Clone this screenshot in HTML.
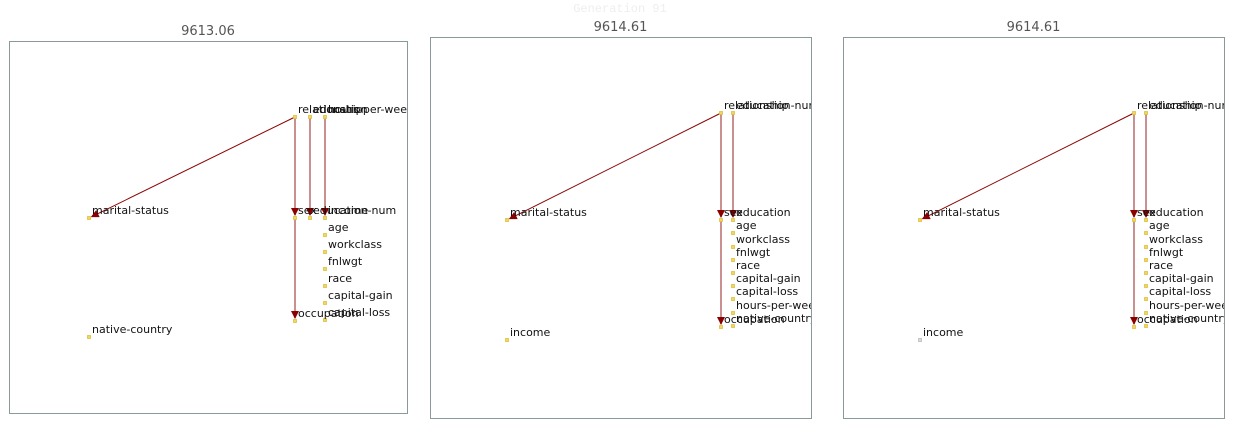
<!DOCTYPE html>
<html><head><meta charset="utf-8"><style>
body{margin:0;background:#fff;width:1242px;height:420px;overflow:hidden}
svg{font-family:"DejaVu Sans","Liberation Sans",sans-serif}
</style></head><body>
<svg id="s" width="1242" height="420">
<defs><marker id="ah" markerWidth="8" markerHeight="8" refX="7" refY="4" orient="auto" markerUnits="userSpaceOnUse"><path d="M0,0 L8,4 L0,8 Z" fill="#8b0000"/></marker></defs>
<text x="620" y="12" text-anchor="middle" font-size="12" fill="#eee" font-family="Liberation Mono,monospace">Generation 91</text>
</svg>
<script>
const panelTitles=["9613.06","9614.61","9614.61"];
const panelBoxes=[[9,41,398,372],[430,37,381,381],[843,37,381,381]];
const nodes1=[["relationship",286,76],["education",301,76],["hours-per-week",316,76],["marital-status",80,177],["sex",286,177],["education-num",301,177],["income",316,177],["age",316,194],["workclass",316,211],["fnlwgt",316,228],["race",316,245],["capital-gain",316,262],["capital-loss",316,279],["occupation",286,280],["native-country",80,296]];
const edges1=[["relationship","marital-status"],["relationship","sex"],["education","education-num"],["hours-per-week","income"],["sex","occupation"]];
const nodes2=[["relationship",291,76],["education-num",303,76],["marital-status",77,183],["sex",291,183],["education",303,183],["age",303,196],["workclass",303,210],["fnlwgt",303,223],["race",303,236],["capital-gain",303,249],["capital-loss",303,262],["hours-per-week",303,276],["native-country",303,289],["occupation",291,290],["income",77,303]];
const edges2=[["relationship","marital-status"],["relationship","sex"],["education-num","education"],["sex","occupation"]];
const panelNodes=[nodes1,nodes2,nodes2];
const panelEdges=[edges1,edges2,edges2];
const svg=document.getElementById('s');const NS="http://www.w3.org/2000/svg";
function mk(t,a,p){const e=document.createElementNS(NS,t);for(const k in a)e.setAttribute(k,a[k]);(p||svg).appendChild(e);return e;}
panelBoxes.forEach((b,i)=>{
 const g=mk('g',{});
 
 
 const cp=mk('clipPath',{id:'c'+i},g);
 mk('rect',{x:b[0],y:b[1],width:b[2],height:b[3]},cp);
 const r=mk('rect',{x:b[0]+.5,y:b[1]+.5,width:b[2],height:b[3],fill:'none',stroke:'#8a9a9a'},g);
 
 
 const t=mk('text',{x:b[0]+b[2]/2,y:b[1]-6,'text-anchor':'middle','font-size':13,fill:'#555'},g);t.textContent=panelTitles[i];
 
 
 const inner=mk('g',{'clip-path':'url(#c'+i+')'},g);
 const pos={};panelNodes[i].forEach(n=>pos[n[0]]=[b[0]+n[1],b[1]+n[2]]);
 panelEdges[i].forEach(e=>{const a=pos[e[0]],c=pos[e[1]];const dx=c[0]-a[0],dy=c[1]-a[1],L=Math.hypot(dx,dy);
  const vert=Math.abs(dx)<1;
  const l=mk('line',{x1:a[0],y1:a[1],x2:c[0]-dx/L*3,y2:c[1]-dy/L*3,stroke:vert?'#b86b6b':'#8b0000','stroke-width':vert?1.5:1,'marker-end':'url(#ah)'},inner);
  
  });
 panelNodes[i].forEach(n=>{const p=pos[n[0]];
  const gray=(i==2&&n[0]=='income');
  const q=mk('rect',{x:p[0]-1.5,y:p[1]-1.5,width:3,height:3,fill:gray?'#ddd':'#f0d860',stroke:gray?'#bbb':'#e0c040','stroke-width':0.8},inner);
  
  
  const tx=mk('text',{x:p[0]+3,y:p[1]-4,'font-size':11,fill:'#111'},inner);tx.textContent=n[0];
  
  });
});
</script>
</body></html>
